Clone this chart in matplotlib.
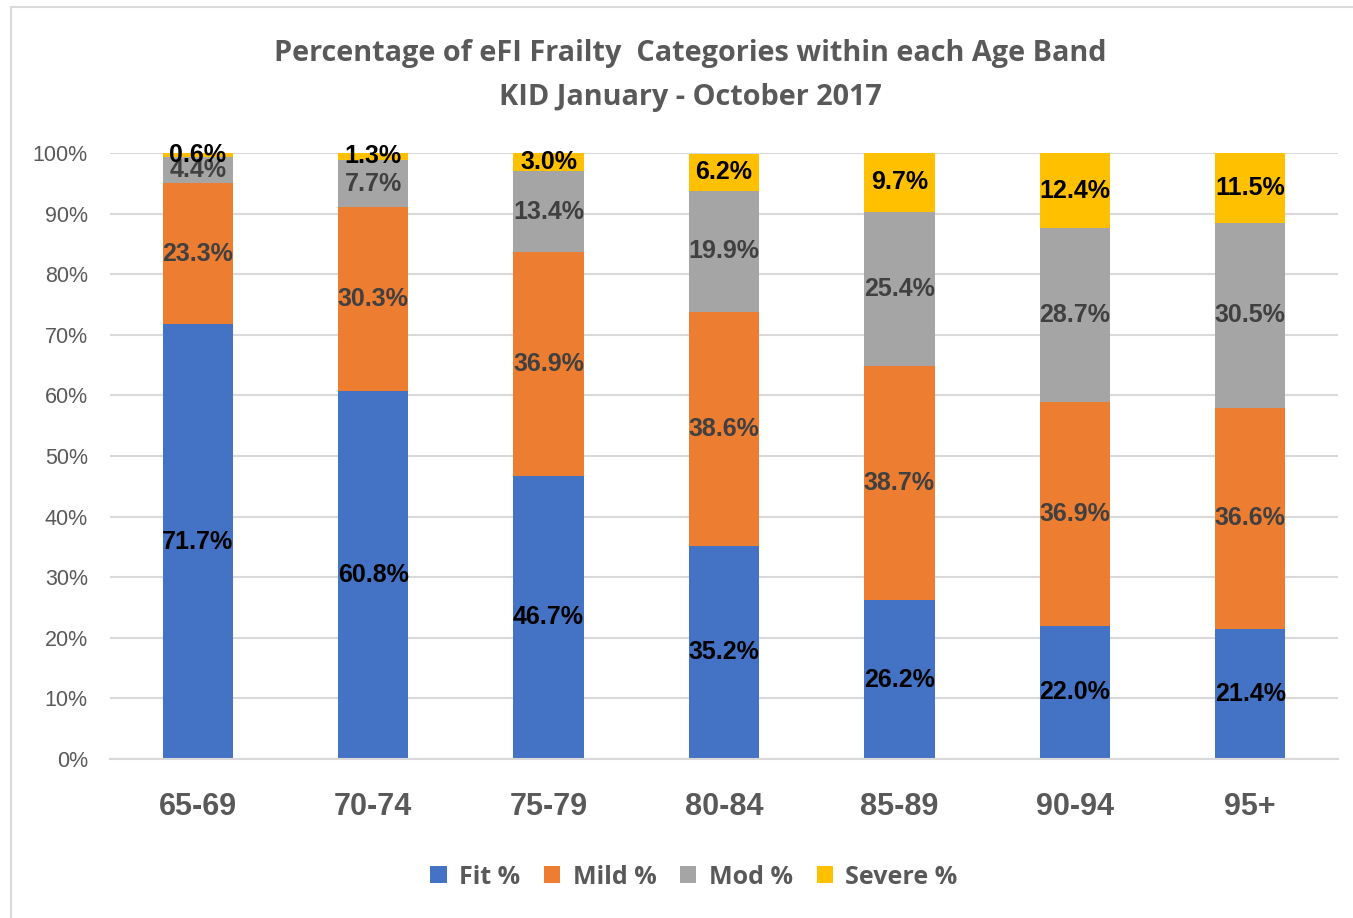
import matplotlib
matplotlib.use("Agg")
import matplotlib.pyplot as plt
import numpy as np
from matplotlib.lines import Line2D

age_bands = ["65-69", "70-74", "75-79", "80-84", "85-89", "90-94", "95+"]
fit = [71.7, 60.8, 46.7, 35.2, 26.2, 22.0, 21.4]
mild = [23.3, 30.3, 36.9, 38.6, 38.7, 36.9, 36.6]
mod = [4.4, 7.7, 13.4, 19.9, 25.4, 28.7, 30.5]
severe = [0.6, 1.3, 3.0, 6.2, 9.7, 12.4, 11.5]
series_names = ["Fit %", "Mild %", "Mod %", "Severe %"]
colors = ["#4472C4", "#ED7D31", "#A5A5A5", "#FFC000"]
label_colors = ["#000000", "#404040", "#404040", "#000000"]
yticks = [0, 10, 20, 30, 40, 50, 60, 70, 80, 90, 100]

W, H = 1353, 918
fig = plt.figure(figsize=(W / 100, H / 100), dpi=100)
ax = fig.add_axes([110 / W, 1 - 759 / H, (1338 - 110) / W, (759 - 153) / H])

x = np.arange(len(age_bands))
bottom = np.zeros(len(age_bands))
for vals, name, c, lc in zip([fit, mild, mod, severe], series_names, colors, label_colors):
    vals = np.array(vals, dtype=float)
    ax.bar(x, vals, 0.4, bottom=bottom, color=c, label=name, zorder=2)
    for xi, v, b in zip(x, vals, bottom):
        ax.text(xi, b + v / 2, f"{v:.1f}%", ha="center", va="center",
                fontsize=18, fontweight="bold", color=lc,
                family="Liberation Sans", zorder=3)
    bottom += vals

ax.set_xlim(-0.5, len(age_bands) - 0.5)
ax.set_ylim(0, 100)
ax.set_yticks(yticks)
ax.set_yticklabels([f"{t}%" for t in yticks], family="Liberation Sans",
                   fontsize=15.5, color="#595959")
ax.set_xticks(x)
ax.set_xticklabels(age_bands, family="Liberation Sans", fontsize=22,
                   fontweight="bold", color="#595959")
ax.tick_params(axis="both", length=0)
ax.tick_params(axis="y", pad=16)
ax.tick_params(axis="x", pad=24)
ax.grid(axis="y", color="#D9D9D9", linewidth=1.5, zorder=0)
for s in ["top", "right", "left"]:
    ax.spines[s].set_visible(False)
ax.spines["bottom"].set_color("#D9D9D9")
ax.spines["bottom"].set_linewidth(1.5)

fig.text(690 / W, 1 - 54 / H, "Percentage of eFI Frailty  Categories within each Age Band",
         ha="center", va="center", fontsize=20.8, fontweight="bold",
         color="#595959", family="Open Sans")
fig.text(690 / W, 1 - 98 / H, "KID January - October 2017",
         ha="center", va="center", fontsize=20.8, fontweight="bold",
         color="#595959", family="Open Sans")

handles, labels = ax.get_legend_handles_labels()
leg = fig.legend(handles, labels, loc="center", bbox_to_anchor=(694 / W, 1 - 877 / H),
                 ncol=4, frameon=False, handlelength=0.65, handleheight=0.65,
                 columnspacing=0.95, handletextpad=0.5,
                 prop={"family": "Open Sans", "weight": "bold", "size": 18})
for t in leg.get_texts():
    t.set_color("#595959")

# outer border (left and top visible in reference)
fig.add_artist(Line2D([11 / W, 11 / W], [0, 1 - 7 / H], transform=fig.transFigure,
                      color="#D9D9D9", linewidth=1.5))
fig.add_artist(Line2D([11 / W, 1], [1 - 7 / H, 1 - 7 / H], transform=fig.transFigure,
                      color="#D9D9D9", linewidth=1.5))

fig.savefig("out.png", dpi=100)
